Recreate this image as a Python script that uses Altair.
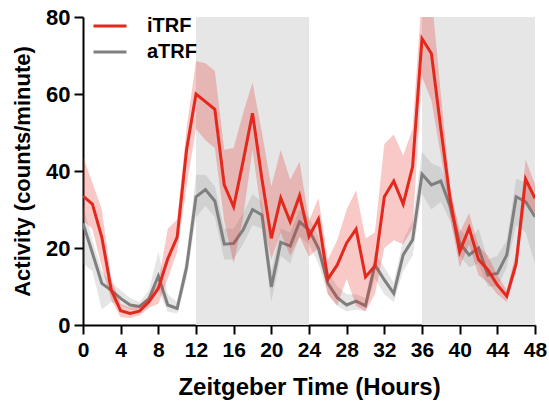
import altair as alt
import pandas as pd

hours = list(range(49))

itrf_mean = [33.5, 31.4, 22.8, 9.1, 3.7, 3.0, 3.6, 6.0, 9.5, 17.2, 22.8, 45.5,
             60.0, 58.0, 56.0, 36.4, 30.7, 42.5, 55.0, 38.0, 22.5, 33.0, 26.8, 33.6,
             23.0, 27.5, 11.9, 15.6, 21.3, 24.9, 12.5, 15.3, 33.3, 37.4, 31.4, 41.1,
             74.4, 70.5, 51.0, 32.5, 19.0, 25.2, 17.0, 14.3, 10.4, 7.5, 16.0, 37.9, 32.9]
itrf_hi = [43.7, 37.0, 30.0, 12.0, 5.5, 4.5, 5.0, 7.5, 11.0, 25.0, 27.5, 51.0,
           68.5, 68.0, 66.0, 45.5, 46.0, 55.0, 63.0, 50.0, 36.0, 45.5, 37.7, 42.4,
           27.0, 33.0, 17.0, 22.0, 30.0, 35.0, 22.5, 24.0, 47.0, 49.5, 44.0, 51.0,
           86.0, 86.0, 60.0, 36.0, 24.0, 29.0, 20.5, 18.0, 13.0, 9.0, 19.0, 43.0, 36.5]
itrf_lo = [27.0, 25.0, 15.0, 6.5, 2.0, 1.8, 2.5, 4.5, 5.5, 12.0, 19.0, 36.0,
           51.0, 48.0, 46.0, 27.0, 16.0, 28.0, 45.5, 28.0, 17.0, 24.0, 18.0, 23.0,
           17.7, 20.0, 8.0, 5.0, 12.0, 5.0, 3.6, 8.0, 20.0, 22.0, 21.0, 25.0,
           64.5, 58.4, 44.0, 28.0, 15.0, 21.0, 13.0, 11.0, 8.0, 6.0, 14.0, 32.0, 29.0]

atrf_mean = [26.4, 18.7, 10.8, 9.0, 6.9, 5.2, 4.8, 6.8, 12.7, 5.2, 4.3, 15.0,
             33.3, 35.2, 32.2, 21.0, 21.2, 24.7, 30.0, 28.6, 9.9, 21.5, 20.5, 26.8,
             24.7, 19.9, 10.8, 7.1, 5.2, 6.2, 5.0, 15.6, 11.7, 8.2, 18.2, 22.1,
             39.2, 36.4, 37.4, 30.7, 21.3, 18.2, 20.0, 13.0, 13.4, 18.2, 33.3, 32.0, 28.1]
atrf_hi = [31.0, 22.0, 14.0, 11.0, 9.0, 7.0, 6.0, 9.0, 19.0, 8.0, 6.0, 18.0,
           39.0, 39.0, 36.0, 25.0, 25.0, 29.0, 34.0, 32.0, 14.0, 25.0, 24.0, 30.0,
           28.0, 23.0, 14.0, 10.0, 8.0, 8.0, 7.0, 19.0, 15.0, 11.0, 22.0, 27.0,
           45.0, 42.0, 41.0, 34.0, 25.0, 22.0, 25.0, 17.0, 18.0, 22.0, 38.0, 37.0, 34.0]
atrf_lo = [16.0, 14.0, 4.0, 6.0, 5.0, 4.0, 3.5, 5.0, 9.0, 3.5, 3.0, 12.0,
           28.0, 31.0, 28.0, 17.0, 17.0, 21.0, 26.0, 25.0, 6.0, 18.0, 16.0, 23.0,
           21.0, 16.0, 8.0, 5.0, 3.5, 4.0, 3.5, 12.0, 8.0, 6.0, 14.0, 18.0,
           34.0, 30.0, 32.0, 27.0, 18.0, 15.0, 16.0, 10.0, 10.0, 15.0, 26.0, 24.0, 16.0]

series_names = ["iTRF", "aTRF"]
series_colors = ["#e3291d", "#7f7f7f"]

dark_start = [12, 36]
dark_end = [24, 48]

rows = []
for name, m, lo, hi in [("iTRF", itrf_mean, itrf_lo, itrf_hi),
                        ("aTRF", atrf_mean, atrf_lo, atrf_hi)]:
    for h, a, b, c in zip(hours, m, lo, hi):
        rows.append({"series": name, "hour": h, "mean": a, "lo": b, "hi": c})
df = pd.DataFrame(rows)
shade = pd.DataFrame({"start": dark_start, "end": dark_end})

FONT = "Liberation Sans"
xscale = alt.Scale(domain=[0, 48], nice=False, zero=False)
yscale = alt.Scale(domain=[0, 80], nice=False)
color = alt.Color(
    "series:N",
    scale=alt.Scale(domain=series_names, range=series_colors),
    legend=alt.Legend(
        title=None, orient="none", legendX=9, legendY=-4,
        symbolType="stroke", symbolSize=1089, symbolStrokeWidth=3,
        symbolOpacity=1,
        labelFont=FONT, labelFontSize=20, labelFontWeight="bold",
        labelColor="black", labelOffset=19, rowPadding=0, clipHeight=26,
        padding=0,
    ),
)

xaxis = alt.Axis(values=list(range(0, 49, 4)), title="Zeitgeber Time (Hours)",
                 grid=False, domainColor="black", domainWidth=2,
                 tickColor="black", tickWidth=2, tickSize=9,
                 labelFont=FONT, labelFontSize=21, labelFontWeight="bold",
                 labelColor="black", labelPadding=5, labelFlush=False,
                 labelOverlap=False,
                 titleFont=FONT, titleFontSize=24, titleFontWeight="bold",
                 titleColor="black", titlePadding=15)
yaxis = alt.Axis(values=[0, 20, 40, 60, 80], title="Activity (counts/minute)",
                 grid=False, domainColor="black", domainWidth=2,
                 tickColor="black", tickWidth=2, tickSize=9,
                 labelFont=FONT, labelFontSize=22, labelFontWeight="bold",
                 labelColor="black", labelPadding=4, labelOverlap=False,
                 titleFont=FONT, titleFontSize=22, titleFontWeight="bold",
                 titleColor="black", titlePadding=11)

shade_layer = alt.Chart(shade).mark_rect(color="#e6e6e6").encode(
    x=alt.X("start:Q", scale=xscale, axis=xaxis),
    x2="end:Q",
    y=alt.value(0), y2=alt.value(308),
)

base = alt.Chart(df)

def band(name, op):
    return base.transform_filter(alt.datum.series == name).mark_area(
        opacity=op, clip=True).encode(
        x=alt.X("hour:Q", scale=xscale, axis=xaxis),
        y=alt.Y("lo:Q", scale=yscale, axis=yaxis),
        y2="hi:Q",
        color=color,
    )

def line(name):
    return base.transform_filter(alt.datum.series == name).mark_line(
        strokeWidth=3, clip=True).encode(
        x=alt.X("hour:Q", scale=xscale, axis=xaxis),
        y=alt.Y("mean:Q", scale=yscale, axis=yaxis),
        color=color,
    )

chart = alt.layer(
    shade_layer, band("aTRF", 0.2), line("aTRF"), band("iTRF", 0.25), line("iTRF")
).resolve_scale(color="shared").properties(
    width=452, height=308,
    padding={"left": 83, "top": 17, "right": 14, "bottom": 85},
    autosize="none",
).configure_view(stroke=None)

chart.save("out.html", embed_options={"renderer": "svg", "actions": False})
